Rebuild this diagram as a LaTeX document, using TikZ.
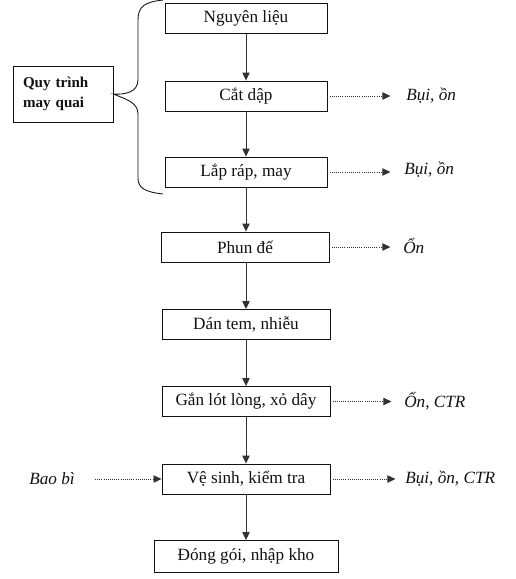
\documentclass[tikz,border=0pt]{standalone}
\usepackage{fontspec}
\setmainfont{Liberation Serif}
\usetikzlibrary{arrows.meta}
\definecolor{ink}{RGB}{17,17,17}
\definecolor{flow}{RGB}{50,50,50}
\tikzset{
  stage/.style={draw=ink, line width=0.65pt, fill=white, minimum height=22.5pt, inner sep=2pt,
    font=\fontsize{12.9}{15}\selectfont, text=ink},
  group/.style={draw=ink, line width=0.65pt, minimum width=75pt, minimum height=42pt, align=left,
    text width=60pt, font=\fontsize{11.3}{15}\selectfont\bfseries, text=ink, inner sep=7pt},
  waste/.style={anchor=west, font=\fontsize{12.9}{15}\selectfont\itshape, text=ink, inner sep=0pt},
  arrow/.style={-{Triangle[length=6pt, width=5.5pt]}, line width=0.75pt, draw=flow},
  side/.style={-{Triangle[length=6pt, width=5.5pt]}, line width=0.6pt, draw=flow, densely dotted},
}

\begin{document}
\begin{tikzpicture}[x=0.75pt, y=-0.75pt]
  \useasboundingbox (0,0) rectangle (516,579);

  % Main process line
  \node[stage, minimum width=121.5pt] (nl) at (246,18.5) {Nguyên liệu};
  \node[stage, minimum width=121.5pt] (cd) at (246,96) {Cắt dập};
  \node[stage, minimum width=121.5pt] (lr) at (246,172) {Lắp ráp, may};
  \node[stage, minimum width=126pt] (pd) at (245,247) {Phun đế};
  \node[stage, minimum width=126pt] (dt) at (246,324.5) {Dán tem, nhiễu};
  \node[stage, minimum width=126pt] (gl) at (246,401.5) {Gắn lót lòng, xỏ dây};
  \node[stage, minimum width=126pt] (vs) at (246,479) {Vệ sinh, kiểm tra};
  \node[stage, minimum width=138pt, minimum height=24pt] (dg) at (246,556.5) {Đóng gói, nhập kho};

  \draw[arrow] (nl.south -| 246,0) -- (cd.north -| 246,0);
  \draw[arrow] (cd.south -| 246,0) -- (lr.north -| 246,0);
  \draw[arrow] (lr.south -| 246,0) -- (pd.north -| 246,0);
  \draw[arrow] (pd.south -| 246,0) -- (dt.north -| 246,0);
  \draw[arrow] (dt.south -| 246,0) -- (gl.north -| 246,0);
  \draw[arrow] (gl.south -| 246,0) -- (vs.north -| 246,0);
  \draw[arrow] (vs.south -| 246,0) -- (dg.north -| 246,0);

  % Sewing group with brace
  \node[group] (quai) at (63,94) {Quy trình\\may quai};
  \draw[ink, line width=0.65pt] (163,0) .. controls (145,2) and (138,6) .. (138,20)
    -- (138,80) .. controls (138,92) and (125,95) .. (quai.east)
    .. controls (125,99) and (138,102) .. (138,114)
    -- (138,178) .. controls (138,188) and (145,192) .. (163,194);

  % Waste outputs
  \node[waste] (w1) at (406,96) {Bụi, ồn};
  \node[waste] (w2) at (404,170) {Bụi, ồn};
  \node[waste] (w3) at (403,246) {Ổn};
  \node[waste] (w4) at (404,401) {Ổn, CTR};
  \node[waste] (w5) at (405,479) {Bụi, ồn, CTR};
  \draw[side] (cd.east) -- ++(63,0);
  \draw[side] (lr.east) -- ++(63,0);
  \draw[side] (pd.east) -- ++(61,0);
  \draw[side] (gl.east) -- ++(61,0);
  \draw[side] (vs.east) -- ++(65,0);

  % Packaging input
  \node[waste] (bb) at (29,479) {Bao bì};
  \coordinate (bbs) at (95,479);
  \draw[side] (bbs) -- (vs.west);
\end{tikzpicture}
\end{document}
